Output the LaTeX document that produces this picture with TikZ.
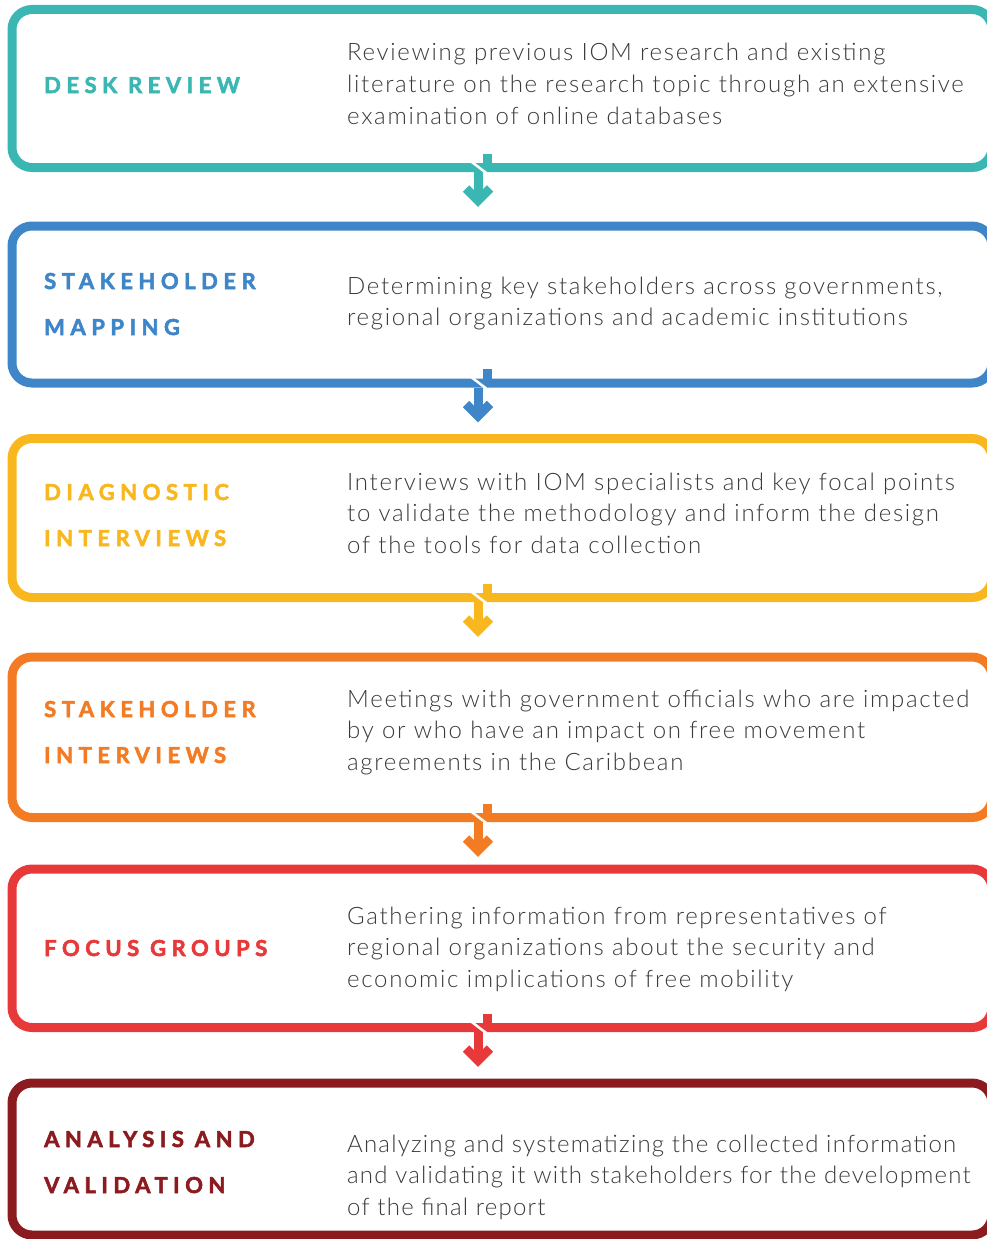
\documentclass[tikz,border=0pt]{standalone}
\usepackage{fontspec}
\newfontfamily\bodyfont[LetterSpace=7]{Lato Light}
\newfontfamily\tightfont[LetterSpace=5]{Lato Light}
\newfontfamily\headfont[LetterSpace=25, BoldFeatures={FakeBold=2.5}]{Lato}
\definecolor{deskcol}{HTML}{3AB7B2}
\definecolor{mapcol}{HTML}{3E86C8}
\definecolor{diagcol}{HTML}{F8B71E}
\definecolor{intcol}{HTML}{F37B23}
\definecolor{focuscol}{HTML}{E8393A}
\definecolor{valcol}{HTML}{8C1B1F}
\definecolor{bodygray}{HTML}{3A3A3A}
\tikzset{frame/.style={line width=9pt, rounded corners=20pt}}
\tikzset{stub/.style={line width=9pt}}
\tikzset{gap/.style={draw=white, line width=2.5pt}}
% base anchor sits on the last line of a multi-line node
\tikzset{head/.style={anchor=base west, align=left, inner sep=0pt, font=\headfont\bfseries\fontsize{22}{46}\selectfont}}
\tikzset{desc/.style={anchor=base west, align=left, inner sep=0pt, text=bodygray, font=\bodyfont\fontsize{24}{31.5}\selectfont}}
\tikzset{val-desc/.style={font=\tightfont\fontsize{24}{31.5}\selectfont}}

\begin{document}
\begin{tikzpicture}[x=1pt,y=-1pt]
    \useasboundingbox (0,0) rectangle (987,1239);
    \clip (0,0) rectangle (987,1239);
    \foreach \ya/\yb/\col/\lab/\hy/\dy/\hd/\tx in {
      9.5/167.5/deskcol/desk/93/124/{DESK REVIEW}/{Reviewing previous IOM research and existing\\literature on the research topic through an extensive\\examination of online databases},
      226/383/mapcol/map/335/325.5/{STAKEHOLDER\\MAPPING}/{Determining key stakeholders across governments,\\regional organizations and academic institutions},
      438.5/597.5/diagcol/diag/546/553/{DIAGNOSTIC\\INTERVIEWS}/{Interviews with IOM specialists and key focal points\\to validate the methodology and inform the design\\of the tools for data collection},
      657/817.5/intcol/int/763/770/{STAKEHOLDER\\INTERVIEWS}/{Meetings with government officials who are impacted\\by or who have an impact on free movement\\agreements in the Caribbean},
      869/1027.5/focuscol/focus/956/987/{FOCUS GROUPS}/{Gathering information from representatives of\\regional organizations about the security and\\economic implications of free mobility}%
    } {
      \draw[frame, draw=\col] (12,\ya) rectangle (992,\yb);
      \node[head, text=\col] (\lab-head) at (44,\hy) {\hd};
      \node[desc] (\lab-desc) at (347,\dy) {\tx};
    }
    % last box, no arrow below it and a tighter text
    \draw[frame, draw=valcol] (12,1083) rectangle (992,1235);
    \node[head, text=valcol] (val-head) at (44,1193) {ANALYSIS AND\\VALIDATION};
    \node[desc, val-desc] (val-desc) at (347,1215) {Analyzing and systematizing the collected information\\and validating it with stakeholders for the development\\of the final report};
    % broken bottom edge turning into the down arrow
    \foreach \yb/\col in {167.5/deskcol, 383/mapcol, 597.5/diagcol, 817.5/intcol, 1027.5/focuscol} {
      \draw[stub, draw=\col] (487,\yb-14) -- (487,\yb);
      \draw[stub, draw=\col] (478,\yb+4.5) -- (478,\yb+33);
      \draw[stub, draw=\col, miter limit=4] (466,\yb+21) -- (478,\yb+33) -- (490,\yb+21);
      \draw[gap] (471.7,\yb-5.5) -- (486.3,\yb+5.5);
    }
  \end{tikzpicture}
\end{document}
